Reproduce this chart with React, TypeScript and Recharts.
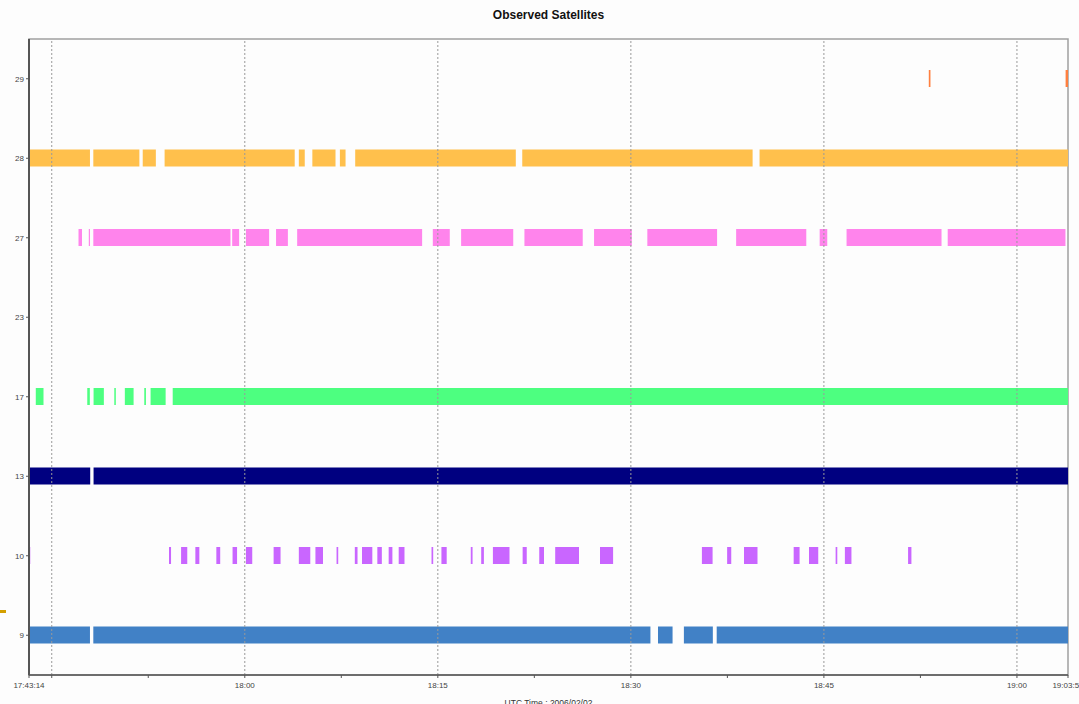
import React from "react";
import {
  Bar,
  BarChart,
  Cell,
  ReferenceArea,
  ReferenceLine,
  XAxis,
  YAxis,
} from "recharts";

// time values are minutes after 17:00 UTC
const T_START = 43.233; // 17:43:14
const T_END = 123.967; // 19:03:58

const satellites = ["29", "28", "27", "23", "17", "13", "10", "9"];
const satColors = ["#FF8040", "#FFC04C", "#FF84EC", "#FFFFFF", "#4DFF80", "#000080", "#C966FF", "#4181C6"];

const sat29 = [[113.15, 113.28], [123.78, 123.967]];
const sat28 = [
  [43.233, 47.97], [48.23, 51.81], [52.07, 53.09], [53.77, 63.88], [64.2, 64.66],
  [65.25, 67.05], [67.39, 67.83], [68.58, 81.06], [81.56, 99.46], [100.0, 123.967],
];
const sat27 = [
  [47.08, 47.35], [47.88, 47.97], [48.23, 58.89], [59.02, 59.56], [60.09, 61.89],
  [62.43, 63.35], [64.07, 73.78], [74.61, 75.93], [76.81, 80.86], [81.73, 86.26],
  [87.14, 90.07], [91.28, 96.7], [98.18, 103.63], [104.67, 105.26], [106.76, 114.14],
  [114.62, 123.77],
];
const sat23: number[][] = [];
const sat17 = [
  [43.76, 44.36], [47.76, 47.96], [48.25, 49.05], [49.86, 49.98], [50.68, 51.36],
  [52.19, 52.32], [52.68, 53.85], [54.4, 123.967],
];
const sat13 = [[43.233, 47.99], [48.25, 123.967]];
const sat10 = [
  [43.233, 43.33], [54.11, 54.27], [55.05, 55.53], [56.16, 56.47], [57.79, 58.09],
  [59.05, 59.4], [60.09, 60.58], [62.24, 62.78], [64.2, 65.09], [65.49, 66.08],
  [67.13, 67.26], [68.55, 68.76], [69.11, 69.91], [70.3, 70.65], [71.18, 71.47],
  [71.96, 72.41], [74.51, 74.64], [75.28, 75.69], [77.56, 77.7], [78.37, 78.58],
  [79.28, 80.57], [81.59, 81.91], [82.88, 83.25], [84.12, 85.97], [87.6, 88.62],
  [95.52, 96.35], [97.48, 97.8], [98.79, 99.84], [102.65, 103.11], [103.84, 104.56],
  [105.91, 106.04], [106.63, 107.14], [111.54, 111.8],
];
const sat9 = [[43.233, 47.97], [48.23, 91.52], [92.11, 93.24], [94.12, 96.37], [96.67, 123.967]];

const segments = [sat29, sat28, sat27, sat23, sat17, sat13, sat10, sat9];

const xTicks = [T_START, 45, 52.5, 60, 67.5, 75, 82.5, 90, 97.5, 105, 112.5, 120, T_END];
const xTickLabels: Record<string, string> = {
  [T_START]: "17:43:14",
  60: "18:00",
  75: "18:15",
  90: "18:30",
  105: "18:45",
  120: "19:00",
  [T_END]: "19:03:58",
};
const gridLines = [45, 60, 75, 90, 105, 120];

const rows = satellites.map((prn, i) => {
  const row: Record<string, any> = { prn };
  segments[i].forEach((s, j) => {
    row[`s${j}`] = s;
  });
  return row;
});
const maxSegs = Math.max(...segments.map((s) => s.length));

const font = "'Liberation Sans', Arial, sans-serif";
const BAR_H = 17;

export default function App() {
  return (
    <div
      style={{
        position: "fixed",
        left: 0,
        top: 0,
        width: 1079,
        height: 704,
        background: "#FDFDFD",
        overflow: "hidden",
      }}
    >
      <div
        style={{
          position: "absolute",
          top: 8,
          left: 29,
          width: 1039,
          textAlign: "center",
          font: `bold 12px ${font}`,
          lineHeight: "14px",
          color: "#111",
        }}
      >
        Observed Satellites
      </div>
      <div
        style={{ position: "absolute", left: 0, top: 610, width: 6, height: 3, background: "#D4A000" }}
      />
      <BarChart
        width={1079}
        height={704}
        data={rows}
        layout="vertical"
        barGap={-BAR_H}
        margin={{ top: 39, right: 11, left: 0, bottom: 0 }}
      >
        {/* plot frame (top / right edges) */}
        <ReferenceArea x1={T_START} x2={T_END} fill="none" stroke="#A0A0A0" strokeWidth={1.5} />
        <XAxis
          type="number"
          domain={[T_START, T_END]}
          allowDataOverflow
          ticks={xTicks}
          interval={0}
          height={29}
          tickSize={3}
          tickMargin={4}
          tickFormatter={(v) => xTickLabels[String(v)] ?? ""}
          tick={{ fontSize: 8, fill: "#444", fontFamily: font }}
          axisLine={{ stroke: "#555", strokeWidth: 1.5 }}
          tickLine={{ stroke: "#555" }}
          label={{
            value: "UTC Time : 2006/02/02",
            position: "insideBottom",
            offset: -2,
            fontSize: 8.5,
            fill: "#333",
            fontFamily: font,
          }}
        />
        <YAxis
          type="category"
          dataKey="prn"
          width={29}
          tickSize={3}
          tickMargin={2}
          tick={{ fontSize: 8, fill: "#444", fontFamily: font }}
          axisLine={{ stroke: "#555", strokeWidth: 2 }}
          tickLine={{ stroke: "#555" }}
        />
        {gridLines.map((v) => (
          <ReferenceLine key={v} x={v} stroke="#999" strokeDasharray="2 2" />
        ))}
        {Array.from({ length: maxSegs }, (_, j) => (
          <Bar key={j} dataKey={`s${j}`} barSize={BAR_H} isAnimationActive={false}>
            {rows.map((_, i) => (
              <Cell key={i} fill={satColors[i]} />
            ))}
          </Bar>
        ))}
      </BarChart>
    </div>
  );
}
